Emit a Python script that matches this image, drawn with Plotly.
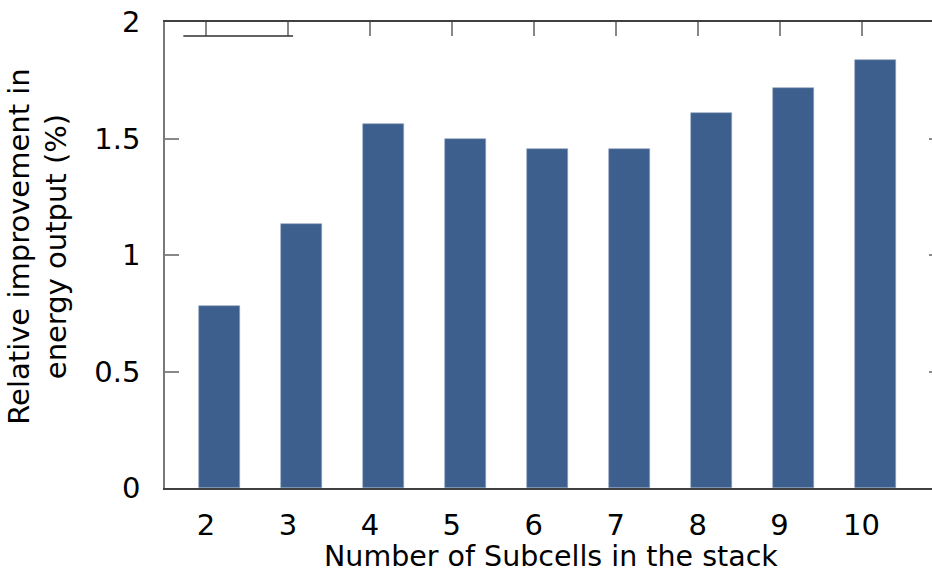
import plotly.graph_objects as go

# Relative improvement in energy output by number of subcells
subcells = [2, 3, 4, 5, 6, 7, 8, 9, 10]
improvement = [0.78, 1.135, 1.562, 1.497, 1.455, 1.455, 1.608, 1.716, 1.837]
y_ticks = [0, 0.5, 1, 1.5, 2]
y_tick_text = ["0", "0.5", "1", "1.5", "2"]

FONT = "DejaVu Sans"
FONT_SIZE = 29
BAR_COLOR = "#3d5f8e"

fig = go.Figure()
fig.add_trace(go.Bar(
    x=subcells,
    y=improvement,
    width=0.5,
    offset=-0.083,
    marker=dict(color=BAR_COLOR, line=dict(width=0.6, color="#8fa3c0")),
    showlegend=False,
))
# invisible trace to carry the mirrored top / right axes
fig.add_trace(go.Scatter(x=[subcells[0]], y=[0], xaxis="x2", yaxis="y2",
                         mode="markers", marker=dict(opacity=0),
                         showlegend=False, hoverinfo="skip"))

fig.update_layout(
    width=932, height=575,
    margin=dict(l=165, r=0, t=22, b=87),
    paper_bgcolor="white", plot_bgcolor="white",
    font=dict(family=FONT, size=FONT_SIZE, color="black"),
    bargap=0,
    xaxis=dict(
        range=[1.5, 10.86], tickmode="array", tickvals=subcells,
        ticktext=[str(s) for s in subcells],
        ticks="", showline=True, linecolor="#404040", linewidth=1.5,
        showgrid=False, zeroline=False, ticklabelstandoff=10,
    ),
    xaxis2=dict(
        overlaying="x", side="top", matches="x", tickmode="array",
        tickvals=subcells, ticks="inside", ticklen=14, tickcolor="#888888",
        tickwidth=1.5, showticklabels=False, showline=True,
        linecolor="#404040", linewidth=1.5, showgrid=False, zeroline=False,
    ),
    yaxis=dict(
        range=[0, 2], tickmode="array", tickvals=y_ticks, ticktext=y_tick_text,
        ticks="inside", ticklen=14, tickcolor="#888888", tickwidth=1.5,
        showline=True, linecolor="#7a7a7a", linewidth=1.5,
        showgrid=False, zeroline=False, ticklabelstandoff=17,
    ),
    yaxis2=dict(
        overlaying="y", side="right", matches="y", tickmode="array",
        tickvals=y_ticks, ticks="inside", ticklen=3, tickcolor="#888888",
        tickwidth=1.5, showticklabels=False, showline=False,
        showgrid=False, zeroline=False,
    ),
    shapes=[dict(type="line", xref="paper", yref="paper",
                 x0=0.0239, x1=0.167, y0=0.970, y1=0.970,
                 line=dict(color="#303030", width=1.5))],
    annotations=[
        dict(text="Number of Subcells in the stack", xref="paper", yref="paper",
             x=0.503, y=-0.146, xanchor="center", yanchor="middle",
             showarrow=False, font=dict(size=28.5)),
        dict(text="Relative improvement in<br>energy output (%)",
             xref="paper", yref="paper", x=-0.166, y=0.517,
             xanchor="center", yanchor="middle", textangle=-90,
             showarrow=False, font=dict(size=FONT_SIZE)),
    ],
)

fig.write_html("out.html")
